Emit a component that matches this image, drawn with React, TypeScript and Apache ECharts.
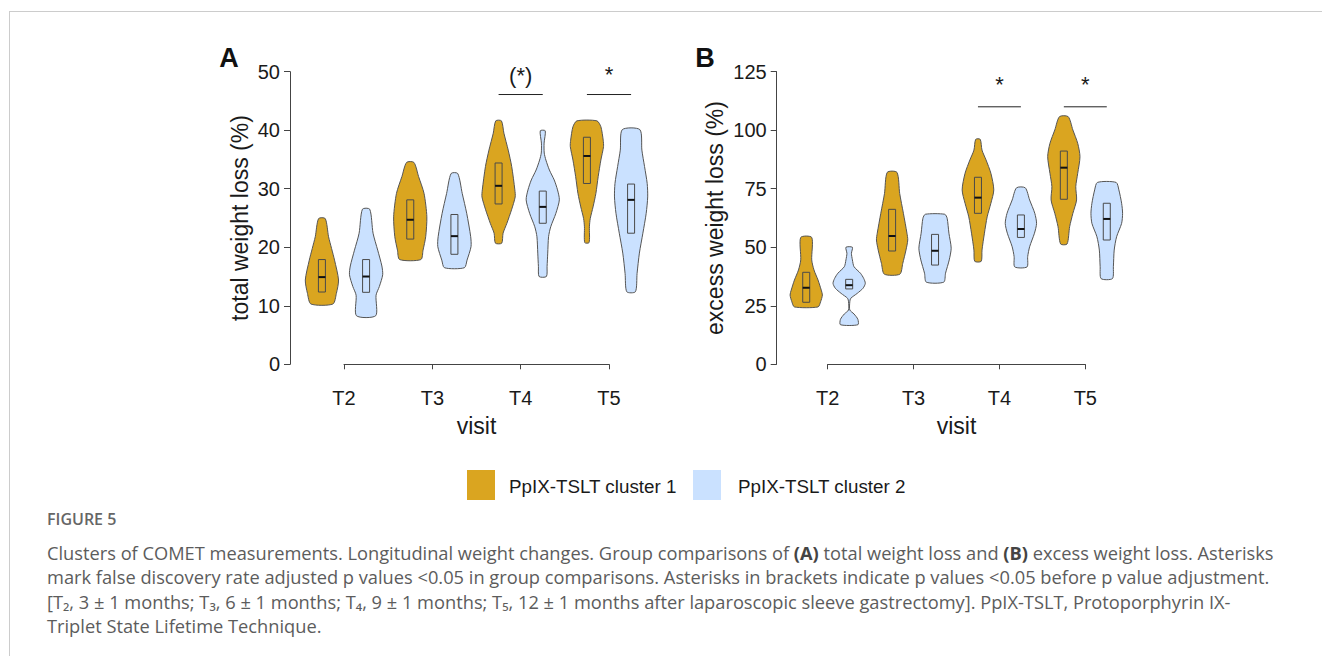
import React, { useEffect, useRef } from "react";
import * as echarts from "echarts";

// ---------- DATA ----------
const categories = ["T2", "T3", "T4", "T5"];
const seriesNames = ["PpIX-TSLT cluster 1", "PpIX-TSLT cluster 2"];

// Violin outlines per visit: [value, relative half-width] from bottom to top
// Panel A: total weight loss (%)
const totalC1Profiles: number[][][] = [
  [[10.3, 0.66], [12.1, 0.87], [14.4, 1.0], [17.8, 0.76], [19.8, 0.58], [21.8, 0.4], [24.9, 0.2]],
  [[17.9, 0.64], [19.5, 0.77], [21.8, 0.93], [25.2, 1.0], [29.2, 0.83], [32.1, 0.5], [34.5, 0.22]],
  [[20.7, 0.19], [22.4, 0.27], [24.1, 0.5], [26.4, 0.78], [28.6, 1.0], [29.8, 0.98], [33.8, 0.79], [36.6, 0.58], [39.5, 0.32], [41.6, 0.17]],
  [[20.8, 0.13], [23.5, 0.15], [24.9, 0.2], [26.9, 0.37], [29.2, 0.54], [32.1, 0.68], [34.9, 0.84], [37.2, 1.0], [38.3, 0.98], [40.6, 0.84], [41.6, 0.6]],
];
const totalC2Profiles: number[][][] = [
  [[8.3, 0.58], [11.8, 0.6], [13.3, 0.8], [15.3, 1.0], [16.8, 0.95], [19.5, 0.7], [22.4, 0.42], [26.5, 0.22]],
  [[16.5, 0.6], [17.8, 0.76], [20.1, 1.0], [21.8, 0.98], [25.8, 0.74], [29.2, 0.47], [32.6, 0.2]],
  [[15.0, 0.22], [16.7, 0.26], [19.0, 0.3], [21.8, 0.35], [23.5, 0.48], [25.8, 0.79], [28.1, 1.0], [29.8, 0.89], [31.5, 0.69], [33.2, 0.4], [34.9, 0.19], [36.1, 0.09], [37.8, 0.08], [39.9, 0.15]],
  [[12.4, 0.26], [15.5, 0.36], [19.0, 0.5], [22.4, 0.71], [25.8, 0.91], [28.6, 1.0], [30.9, 0.97], [33.8, 0.81], [36.6, 0.65], [40.1, 0.53]],
];
// Boxes: [q1, median, q3]
const totalC1Boxes = [[12.35, 14.9, 17.9], [21.4, 24.7, 28.1], [27.4, 30.5, 34.4], [30.9, 35.6, 38.8]];
const totalC2Boxes = [[12.3, 15.0, 17.9], [18.8, 21.9, 25.6], [24.1, 26.9, 29.6], [22.4, 28.1, 30.8]];

// Panel B: excess weight loss (%)
const excessC1Profiles: number[][][] = [
  [[24.5, 0.73], [26.7, 0.89], [29.6, 1.0], [31.7, 0.93], [36.0, 0.73], [40.3, 0.48], [44.6, 0.34], [54.2, 0.34]],
  [[38.5, 0.48], [43.1, 0.66], [48.8, 0.86], [53.1, 0.97], [56.0, 0.92], [64.5, 0.7], [73.0, 0.47], [82.0, 0.3]],
  [[44.0, 0.2], [48.8, 0.25], [56.0, 0.4], [63.0, 0.57], [68.8, 0.8], [74.5, 0.98], [81.6, 0.8], [87.3, 0.5], [91.5, 0.25], [96.1, 0.14]],
  [[51.4, 0.2], [58.8, 0.36], [64.5, 0.56], [70.2, 0.79], [75.9, 0.74], [81.6, 0.86], [88.7, 1.0], [94.4, 0.86], [100.1, 0.56], [105.8, 0.27]],
];
const excessC2Profiles: number[][][] = [
  [[16.9, 0.54], [19.2, 0.54], [21.5, 0.3], [23.2, 0.04], [26.7, 0.04], [28.2, 0.1], [30.3, 0.5], [32.5, 0.86], [34.6, 1.0], [36.7, 0.9], [38.9, 0.7], [41.7, 0.3], [44.6, 0.2], [47.4, 0.14], [50.0, 0.2]],
  [[35.1, 0.54], [38.9, 0.65], [44.6, 0.88], [49.6, 1.0], [56.0, 0.86], [62.4, 0.75], [64.1, 0.6]],
  [[41.6, 0.38], [46.0, 0.42], [50.2, 0.54], [56.0, 0.84], [60.2, 0.97], [64.5, 0.86], [70.2, 0.54], [75.4, 0.27]],
  [[36.6, 0.35], [41.7, 0.41], [48.8, 0.46], [54.5, 0.61], [60.2, 0.92], [64.5, 0.98], [68.8, 0.92], [74.5, 0.75], [77.7, 0.58]],
];
const excessC1Boxes = [[26.5, 32.7, 39.3], [48.4, 54.8, 66.2], [64.5, 71.2, 79.9], [70.5, 84.0, 91.1]];
const excessC2Boxes = [[32.2, 33.8, 36.3], [42.4, 48.5, 55.5], [54.2, 57.8, 63.8], [53.1, 62.1, 68.8]];

// Significance marks: [visit position, bar value, label value]
const totalSigPos = [[3, 46.1, 49.4], [4, 46.1, 49.6]];
const totalSigLabels = ["(*)", "*"];
const excessSigPos = [[3, 110, 119.5], [4, 110, 119.5]];
const excessSigLabels = ["*", "*"];

// ---------- STYLE ----------
const C1 = "#DAA520";
const C2 = "#CAE1FF";
const HALF_WIDTH = 0.188; // in category units
const BOX_HALF = 3.5; // px
const OFFSET = 0.25;
const TXT = "#1a1a1a";
const FONT = "'Liberation Sans', Arial, sans-serif";

function violinSeries(name: string, gi: number, profiles: number[][][], boxes: number[][], offset: number, color: string) {
  return {
    type: "custom",
    name,
    xAxisIndex: gi,
    yAxisIndex: gi,
    clip: false,
    z: 3,
    itemStyle: { color },
    data: boxes.map((b, i) => [i + 1, b[1], i]),
    encode: { x: 0, y: 1 },
    renderItem: (params: any, api: any) => {
      const cat = api.value(0);
      const idx = api.value(2);
      const unit = api.size([1, 0])[0];
      const hw = HALF_WIDTH * unit;
      const cx = api.coord([cat + offset, 0])[0];
      const prof = profiles[idx];
      const right = prof.map(([v, f]) => [cx + f * hw, api.coord([cat, v])[1]]);
      const left = prof
        .slice()
        .reverse()
        .map(([v, f]) => [cx - f * hw, api.coord([cat, v])[1]]);
      const b = boxes[idx];
      const y1 = api.coord([cat, b[0]])[1];
      const ym = api.coord([cat, b[1]])[1];
      const y3 = api.coord([cat, b[2]])[1];
      return {
        type: "group",
        children: [
          {
            type: "polygon",
            shape: { points: right.concat(left), smooth: 0.25 },
            style: { fill: color, stroke: "#555", lineWidth: 1 },
          },
          {
            type: "rect",
            shape: { x: cx - BOX_HALF, y: y3, width: BOX_HALF * 2, height: y1 - y3 },
            style: { fill: "none", stroke: "#4a4a4a", lineWidth: 1 },
          },
          {
            type: "line",
            shape: { x1: cx - BOX_HALF, y1: ym, x2: cx + BOX_HALF, y2: ym },
            style: { stroke: "#111", lineWidth: 2 },
          },
        ],
      };
    },
  };
}

function sigSeries(gi: number, pos: number[][], labels: string[]) {
  return {
    type: "custom",
    xAxisIndex: gi,
    yAxisIndex: gi,
    clip: false,
    z: 4,
    silent: true,
    data: pos.map((p, i) => [p[0], p[1], p[2], i]),
    encode: { x: 0, y: 1 },
    renderItem: (params: any, api: any) => {
      const cat = api.value(0);
      const a = api.coord([cat - OFFSET, api.value(1)]);
      const b = api.coord([cat + OFFSET, api.value(1)]);
      const t = api.coord([cat, api.value(2)]);
      return {
        type: "group",
        children: [
          { type: "line", shape: { x1: a[0], y1: a[1], x2: b[0], y2: b[1] }, style: { stroke: "#222", lineWidth: 1 } },
          {
            type: "text",
            x: t[0],
            y: t[1],
            style: {
              text: labels[api.value(3)],
              fill: TXT,
              font: `22px ${FONT}`,
              textAlign: "center",
              textVerticalAlign: "middle",
              verticalAlign: "middle",
            },
          },
        ],
      };
    },
  };
}

function xAxis(gi: number) {
  return {
    type: "value",
    gridIndex: gi,
    min: 1,
    max: 4,
    interval: 1,
    offset: 16,
    name: "visit",
    nameLocation: "middle",
    nameGap: 34,
    nameTextStyle: { fontSize: 23, color: TXT, fontFamily: FONT },
    axisLine: { show: true, lineStyle: { color: "#444", width: 1 } },
    axisTick: { show: true, length: 5, inside: false, lineStyle: { color: "#444" } },
    axisLabel: {
      show: true,
      fontSize: 20,
      color: TXT,
      fontFamily: FONT,
      margin: 8,
      formatter: (v: number) => categories[v - 1] ?? "",
    },
    splitLine: { show: false },
  };
}

function yAxis(gi: number, max: number, interval: number, name: string, offset: number, gap: number) {
  return {
    type: "value",
    gridIndex: gi,
    min: 0,
    max,
    interval,
    offset,
    name,
    nameLocation: "middle",
    nameGap: gap,
    nameRotate: 90,
    nameTextStyle: { fontSize: 23, color: TXT, fontFamily: FONT },
    axisLine: { show: true, lineStyle: { color: "#444", width: 1 } },
    axisTick: { show: true, length: 6, inside: false, lineStyle: { color: "#444" } },
    axisLabel: { show: true, fontSize: 20, color: TXT, fontFamily: FONT, margin: 10 },
    splitLine: { show: false },
  };
}

const captionLines = [
  "Clusters of COMET measurements. Longitudinal weight changes. Group comparisons of {b|(A)} total weight loss and {b|(B)} excess weight loss. Asterisks",
  "mark false discovery rate adjusted p values <0.05 in group comparisons. Asterisks in brackets indicate p values <0.05 before p value adjustment.",
  "[T₂, 3 ± 1 months; T₃, 6 ± 1 months; T₄, 9 ± 1 months; T₅, 12 ± 1 months after laparoscopic sleeve gastrectomy]. PpIX-TSLT, Protoporphyrin IX-",
  "Triplet State Lifetime Technique.",
];

export default function App() {
  const ref = useRef<HTMLDivElement>(null);
  useEffect(() => {
    if (!ref.current) return;
    const chart = echarts.init(ref.current, undefined, { renderer: "svg" });
    const capFont = "'Open Sans', 'Noto Sans', sans-serif";
    const capSize = 18.25;
    const option: any = {
      animation: false,
      backgroundColor: "#fff",
      textStyle: { fontFamily: FONT },
      grid: [
        { left: 344, top: 71.7, width: 265, height: 292.6, outerBoundsMode: "none", containLabel: false },
        { left: 827.7, top: 71.7, width: 257.6, height: 292.6, outerBoundsMode: "none", containLabel: false },
      ],
      xAxis: [xAxis(0), xAxis(1)],
      yAxis: [
        yAxis(0, 50, 10, "total weight loss (%)", 54, 39),
        yAxis(1, 125, 25, "excess weight loss (%)", 51, 50),
      ],
      series: [
        violinSeries(seriesNames[0], 0, totalC1Profiles, totalC1Boxes, -OFFSET, C1),
        violinSeries(seriesNames[1], 0, totalC2Profiles, totalC2Boxes, OFFSET, C2),
        violinSeries(seriesNames[0], 1, excessC1Profiles, excessC1Boxes, -OFFSET, C1),
        violinSeries(seriesNames[1], 1, excessC2Profiles, excessC2Boxes, OFFSET, C2),
        sigSeries(0, totalSigPos, totalSigLabels),
        sigSeries(1, excessSigPos, excessSigLabels),
      ],
      graphic: [
        { type: "line", shape: { x1: 9, y1: 11.5, x2: 1322, y2: 11.5 }, style: { stroke: "#cccccc", lineWidth: 1 } },
        { type: "line", shape: { x1: 9.5, y1: 11, x2: 9.5, y2: 656 }, style: { stroke: "#cccccc", lineWidth: 1 } },
        { type: "text", x: 229, y: 58, style: { text: "A", font: `bold 27px ${FONT}`, fill: "#111", textAlign: "center", textVerticalAlign: "middle", verticalAlign: "middle" } },
        { type: "text", x: 705, y: 58, style: { text: "B", font: `bold 27px ${FONT}`, fill: "#111", textAlign: "center", textVerticalAlign: "middle", verticalAlign: "middle" } },
        { type: "rect", shape: { x: 467, y: 470, width: 28, height: 30 }, style: { fill: C1 } },
        { type: "text", x: 509, y: 486, style: { text: seriesNames[0], font: `18.8px ${FONT}`, fill: TXT, textVerticalAlign: "middle", verticalAlign: "middle" } },
        { type: "rect", shape: { x: 693, y: 470, width: 28, height: 30 }, style: { fill: C2 } },
        { type: "text", x: 738, y: 486, style: { text: seriesNames[1], font: `18.8px ${FONT}`, fill: TXT, textVerticalAlign: "middle", verticalAlign: "middle" } },
        { type: "text", x: 47, y: 519, style: { text: "FIGURE 5", font: `600 16px ${capFont}`, fill: "#666", textVerticalAlign: "middle", verticalAlign: "middle" } },
        ...captionLines.map((line, i) => ({
          type: "text",
          x: 47,
          y: 552 + i * 24.5,
          style: {
            text: line,
            font: `${capSize}px ${capFont}`,
            fill: "#5c5c5c",
            textVerticalAlign: "middle",
            verticalAlign: "middle",
            rich: { b: { fontWeight: "bold", fontSize: capSize, fontFamily: capFont, fill: "#444", color: "#444" } },
          },
        })),
      ],
    };
    chart.setOption(option);
    return () => chart.dispose();
  }, []);
  return (
    <div
      ref={ref}
      style={{ position: "fixed", left: 0, top: 0, width: 1322, height: 656, background: "#fff" }}
    />
  );
}
